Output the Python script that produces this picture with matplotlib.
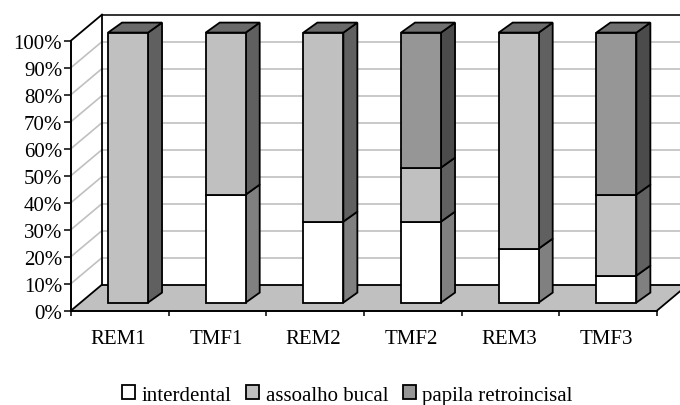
import matplotlib
matplotlib.use('Agg')
import matplotlib.pyplot as plt
from matplotlib.patches import Patch, Polygon

plt.rcParams['font.family'] = 'Liberation Serif'

# data
categories = ['REM1', 'TMF1', 'REM2', 'TMF2', 'REM3', 'TMF3']
interdental = [0, 40, 30, 30, 20, 10]
assoalho = [100, 60, 70, 20, 80, 30]
papila = [0, 0, 0, 50, 0, 60]
series_names = ['interdental', 'assoalho bucal', 'papila retroincisal']
y_ticks = [0, 10, 20, 30, 40, 50, 60, 70, 80, 90, 100]

# colours: front, side, top
colors = [('#ffffff', '#808080', '#808080'),
          ('#c0c0c0', '#606060', '#6a6a6a'),
          ('#969696', '#4b4b4b', '#707070')]

W, H = 680, 406
FS = 15
fig = plt.figure(figsize=(W / 100, H / 100), dpi=100)
ax = fig.add_axes([71 / W, (H - 311.6) / H, 586 / W, 270 / H])
ax.set_xlim(0, 6)
ax.set_ylim(0, 100)

# px to data units
ux = 6 / 586
uy = 100 / 270
wall_dx, wall_dy = 31 * ux, 26 * uy
bar_dx, bar_dy = 14 * ux, 10 * uy
bar_lift = 8 * uy


def wall(x, y, d=0.0):
    return x + d * wall_dx, y + d * wall_dy


def bar(x, y, d=0.0):
    return x + d * bar_dx, y + bar_lift + d * bar_dy


def poly(points, fc, z):
    ax.add_patch(Polygon(points, closed=True, facecolor=fc, edgecolor='k', linewidth=1.3,
                         joinstyle='miter', clip_on=False, zorder=z))


def line(p0, p1, color='k', lw=1.3, z=2):
    ax.plot([p0[0], p1[0]], [p0[1], p1[1]], color=color, linewidth=lw, clip_on=False,
            zorder=z, solid_capstyle='projecting')


# walls and grid
for v in y_ticks[1:-1]:
    line(wall(0, v), wall(0, v, 1), color='#c0c0c0', lw=1.2, z=1)
    line(wall(0, v, 1), wall(7, v, 1), color='#c0c0c0', lw=1.2, z=1)

ax.add_patch(Polygon([wall(0, 0), wall(6, 0), wall(6, 0, 1), wall(0, 0, 1)], closed=True,
                     facecolor='#c0c0c0', edgecolor='none', clip_on=False, zorder=1.5))
line(wall(0, 0, 1), wall(7, 0, 1))
line(wall(0, 100, 1), wall(7, 100, 1), color='#222222')
line(wall(0, 0, 1), wall(0, 100, 1))
line(wall(0, 100), wall(0, 100, 1))
line(wall(0, 0), wall(0, 0, 1))
line(wall(6, 0), wall(6, 0, 1))

# bars
bar_w = 40 * ux
for i in range(len(categories)):
    x0 = i + 0.5 + 8.2 * ux - bar_w / 2
    x1 = x0 + bar_w
    bottom = 0
    for k, vals in enumerate([interdental, assoalho, papila]):
        v = vals[i]
        if v == 0:
            continue
        top = bottom + v
        front, side, cap = colors[k]
        poly([bar(x1, bottom), bar(x1, bottom, 1), bar(x1, top, 1), bar(x1, top)], side, 3)
        poly([bar(x0, bottom), bar(x1, bottom), bar(x1, top), bar(x0, top)], front, 4)
        if top == 100:
            poly([bar(x0, top), bar(x1, top), bar(x1, top, 1), bar(x0, top, 1)], cap, 3)
        bottom = top

# axes
for s in ['top', 'right']:
    ax.spines[s].set_visible(False)
for s in ['left', 'bottom']:
    ax.spines[s].set_linewidth(1.4)
    ax.spines[s].set_zorder(5)
ax.patch.set_visible(False)
ax.set_yticks(y_ticks)
ax.set_yticklabels([f'{v}%' for v in y_ticks], fontsize=FS)
ax.set_xticks(range(7))
ax.set_xticklabels([])
ax.set_xticks([i + 0.5 - 1.5 * ux for i in range(6)], minor=True)
ax.set_xticklabels(categories, minor=True, fontsize=FS)
ax.tick_params(axis='x', which='major', length=3.6, width=1.1)
ax.tick_params(axis='x', which='minor', length=0, pad=13.5)
ax.tick_params(axis='y', length=4.8, width=1.1, pad=1.5)

handles = [Patch(facecolor=colors[k][0], edgecolor='k', linewidth=1.3, label=series_names[k]) for k in range(3)]
fig.legend(handles=handles, loc='center', bbox_to_anchor=(347.5 / W, (H - 396) / H), ncol=3, frameon=False,
           fontsize=FS, handlelength=0.62, handleheight=0.62, handletextpad=0.3, columnspacing=0.72,
           borderpad=0, borderaxespad=0)

fig.savefig('out.png', dpi=100)
